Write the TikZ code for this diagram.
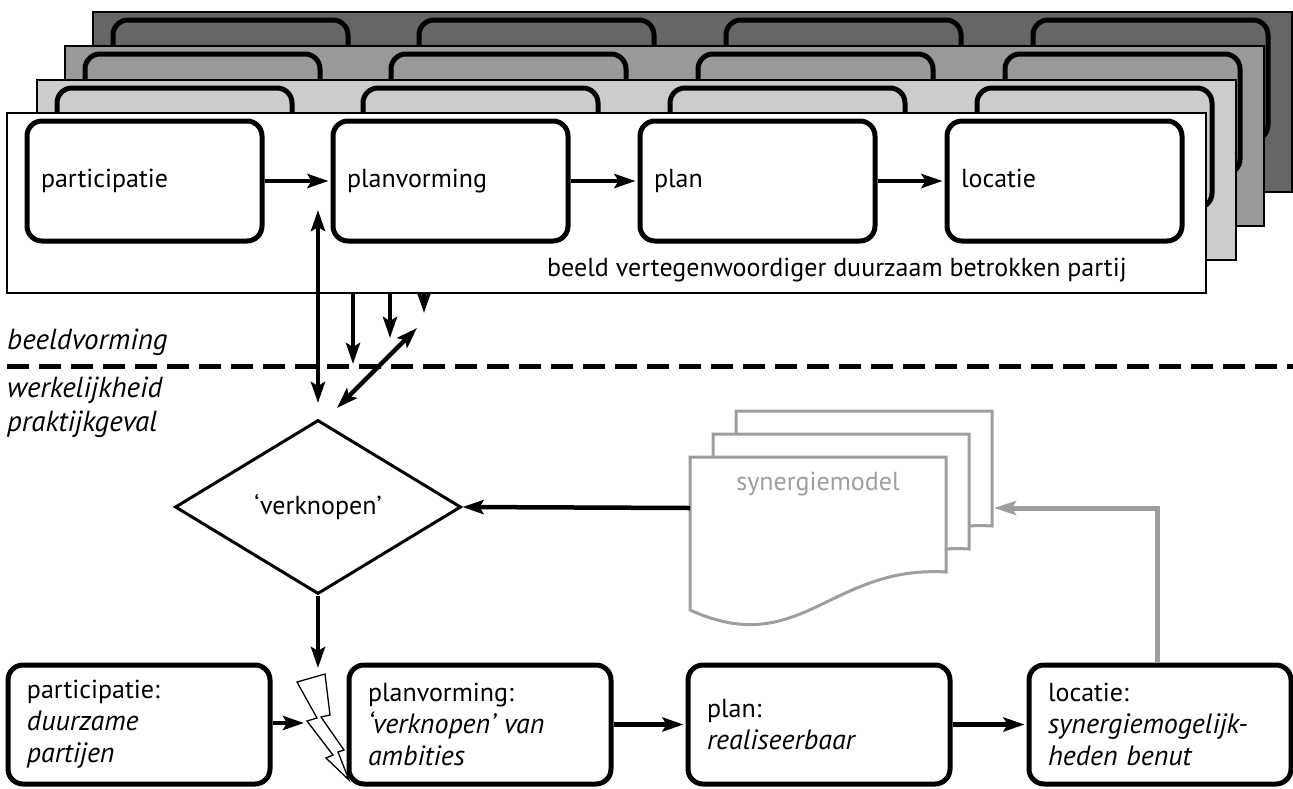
\documentclass[tikz,border=0pt]{standalone}
\usepackage{fontspec}
\setmainfont{PT Sans}
\usetikzlibrary{arrows.meta,shapes.geometric,calc}

\definecolor{layerA}{HTML}{CCCCCC}
\definecolor{layerB}{HTML}{999999}
\definecolor{layerC}{HTML}{666666}
\definecolor{docgray}{HTML}{9E9E9E}

% italic text is set a little larger than the upright text
\newcommand\slant[1]{{\fontsize{28}{32}\selectfont\itshape #1}}

% one stacked sheet: panel plus its four stage boxes, shifted by (#1,#2)
\newcommand\stagelayer[3]{%
  \begin{scope}[shift={(#1,#2)}]
    \draw[panel, fill=#3] (7,113) rectangle (1206,293);
    \foreach \cx in {144.5,450.5,757.5,1064.5}
      \draw[stageline, fill=#3] (\cx-117.5,121) rectangle (\cx+117.5,241);
  \end{scope}}

% one page of the synergy model stack, shifted by (#1,#2)
\newcommand\docpage[2]{%
  \begin{scope}[shift={(#1,#2)}]
    \draw[docline] (690,457) -- (946,457) -- (946,572)
      .. controls (830,565) and (800,660) .. (690,610) -- cycle;
  \end{scope}}

\begin{document}
\begin{tikzpicture}[x=1pt,y=-1pt,
  font=\fontsize{26}{32}\selectfont,
  panel/.style={draw=black, line width=2pt},
  stageline/.style={draw=black, line width=5pt, rounded corners=15pt},
  topbox/.style={stageline, fill=white, minimum width=235pt, minimum height=120pt,
    text width=207pt, align=left, inner sep=0pt, execute at begin node=\strut},
  botbox/.style={stageline, fill=white, minimum width=262pt, minimum height=119pt,
    text width=224pt, align=left, inner sep=0pt},
  docline/.style={draw=docgray, line width=3pt, fill=white, line join=miter},
  arr/.style={line width=4.5pt, -{Stealth[length=21pt,width=14pt,inset=4pt]}},
  dblarr/.style={line width=4.5pt, {Stealth[length=21pt,width=14pt,inset=4pt]}-{Stealth[length=21pt,width=14pt,inset=4pt]}},
  grayarr/.style={draw=docgray, line width=5pt, -{Stealth[length=22pt,width=14pt,inset=4pt]}},
  lbl/.style={anchor=west, inner sep=0pt, font=\fontsize{29}{32}\selectfont\itshape},
]
\useasboundingbox (0,0) rectangle (1293,788);

% stacked sheets, back to front
\stagelayer{86}{-101}{layerC}
\stagelayer{58}{-67}{layerB}
\stagelayer{30}{-33}{layerA}

% front sheet
\draw[panel, fill=white] (7,113) rectangle (1206,293);
\node[topbox] (tp1) at (144.5,181) {participatie};
\node[topbox] (tp2) at (450.5,181) {planvorming};
\node[topbox] (tp3) at (757.5,181) {plan};
\node[topbox] (tp4) at (1064.5,181) {locatie};
\node[anchor=west, inner sep=0pt] (sheet) at (547,270) {beeld vertegenwoordiger duurzaam betrokken partij};

\draw[arr, shorten >=2pt] (tp1) -- (tp2);
\draw[arr, shorten >=2pt] (tp2) -- (tp3);
\draw[arr, shorten >=2pt] (tp3) -- (tp4);

% boundary between image and reality
\coordinate (dashL) at (7,366);
\coordinate (dashR) at (1293,366);
\draw[line width=5pt, dash pattern=on 22pt off 10pt] (dashL) -- (dashR);
\node[lbl] (lbA) at (7,342) {beeldvorming};
\node[lbl] (lbB) at (7,390) {werkelijkheid};
\node[lbl] (lbC) at (7,424) {praktijkgeval};

% knot
\node[diamond, draw, line width=3pt, minimum width=286pt, minimum height=174pt,
      aspect=1.64, inner sep=0pt] (knot) at (318,507) {‘verknopen’};

% links between the sheets and the knot
\coordinate (vTop) at (318,210);
\coordinate (vBot) at (318,403);
\draw[dblarr] (vTop) -- (vBot);
\coordinate (s1a) at (353,293); \coordinate (s1b) at (353,364);
\coordinate (s2a) at (390,293); \coordinate (s2b) at (390,338);
\coordinate (s3a) at (424,293); \coordinate (s3b) at (424,313);
\draw[arr] (s1a) -- (s1b);
\draw[arr] (s2a) -- (s2b);
\draw[arr] (s3a) -- (s3b);
\coordinate (dgA) at (417,328);
\coordinate (dgB) at (337,408);
\draw[dblarr] (dgA) -- (dgB);

% synergy model stack
\docpage{46}{-46}
\docpage{23}{-23}
\docpage{0}{0}
\node[text=docgray, inner sep=0pt] (synmod) at (818,484) {synergiemodel};
\coordinate (docL) at (690,508);
\coordinate (docR) at (994,508);
\draw[arr] (docL) -- (knot.east);

% practice boxes
\node[botbox] (bt1) at (139,724.5) {participatie:\\\slant{duurzame}\\\slant{partijen}};
\node[botbox] (bt2) at (480,724.5) {planvorming:\\\slant{‘verknopen’ van}\\\slant{ambities}};
\node[botbox] (bt3) at (819,724.5) {plan:\\\slant{realiseerbaar}};
\node[botbox] (bt4) at (1160,724.5) {locatie:\\\slant{synergiemogelijk-}\\\slant{heden benut}};

% knot strikes into the planning stage
\coordinate (boltTip) at (318,668);
\draw[arr] (knot.south) -- (boltTip);
\draw[line width=1.3pt, fill=white, line join=miter]
  (297,682) -- (325,674) -- (330,715) -- (321,717) -- (344,750) -- (338,752)
  -- (349,780) -- (326,758) -- (333,755) -- (307,721) -- (317,718) -- cycle;
\coordinate (boltIn) at (304,723);
\draw[arr] (bt1.east |- boltIn) -- (boltIn);

\draw[arr, shorten >=2pt] (bt2) -- (bt3);
\draw[arr, shorten >=2pt] (bt3) -- (bt4);

% feedback to the synergy model
\draw[grayarr] ([xshift=-3pt]bt4.north) |- (docR);
\end{tikzpicture}
\end{document}
